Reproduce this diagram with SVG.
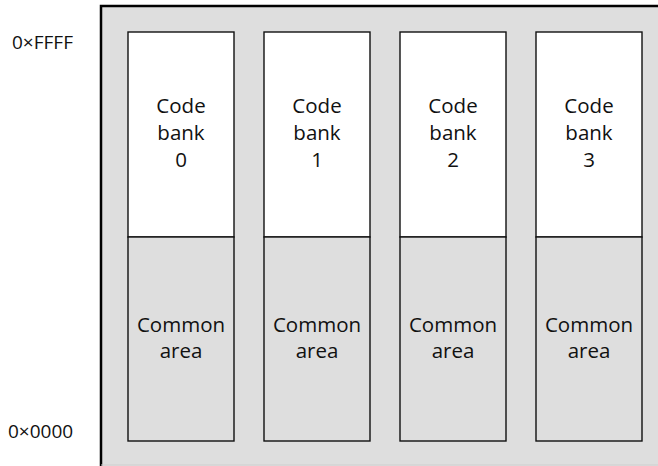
<svg xmlns="http://www.w3.org/2000/svg" width="658" height="466" viewBox="0 0 658 466">
<style>
.t{font-family:"Open Sans","Noto Sans",sans-serif;font-size:20.5px;fill:#111;text-anchor:middle}
.l{font-family:"Open Sans","Noto Sans",sans-serif;font-size:19px;fill:#111}
.code{fill:#fff;stroke:#111;stroke-width:1.4}
.common{fill:#dedede;stroke:#111;stroke-width:1.4}
</style>
<g id="frame">
<rect x="101" y="6" width="570" height="470" fill="#dedede" stroke="#000" stroke-width="2.5"/>
<line x1="101" y1="465" x2="658" y2="465" stroke="#cfcfcf" stroke-width="1"/>
</g>
<g id="labels">
<text class="l" x="12" y="49">0×FFFF</text>
<text class="l" x="8" y="438">0×0000</text>
</g>
<g id="bank0">
<rect class="code" x="128" y="32" width="106" height="205"/>
<rect class="common" x="128" y="237" width="106" height="204"/>
<text class="t" x="181" y="113">Code</text><text class="t" x="181" y="140">bank</text><text class="t" x="181" y="167">0</text>
<text class="t" x="181" y="332">Common</text><text class="t" x="181" y="358">area</text>
</g>
<g id="bank1">
<rect class="code" x="264" y="32" width="106" height="205"/>
<rect class="common" x="264" y="237" width="106" height="204"/>
<text class="t" x="317" y="113">Code</text><text class="t" x="317" y="140">bank</text><text class="t" x="317" y="167">1</text>
<text class="t" x="317" y="332">Common</text><text class="t" x="317" y="358">area</text>
</g>
<g id="bank2">
<rect class="code" x="400" y="32" width="106" height="205"/>
<rect class="common" x="400" y="237" width="106" height="204"/>
<text class="t" x="453" y="113">Code</text><text class="t" x="453" y="140">bank</text><text class="t" x="453" y="167">2</text>
<text class="t" x="453" y="332">Common</text><text class="t" x="453" y="358">area</text>
</g>
<g id="bank3">
<rect class="code" x="536" y="32" width="106" height="205"/>
<rect class="common" x="536" y="237" width="106" height="204"/>
<text class="t" x="589" y="113">Code</text><text class="t" x="589" y="140">bank</text><text class="t" x="589" y="167">3</text>
<text class="t" x="589" y="332">Common</text><text class="t" x="589" y="358">area</text>
</g>
<g id="connectors"/>
</svg>
